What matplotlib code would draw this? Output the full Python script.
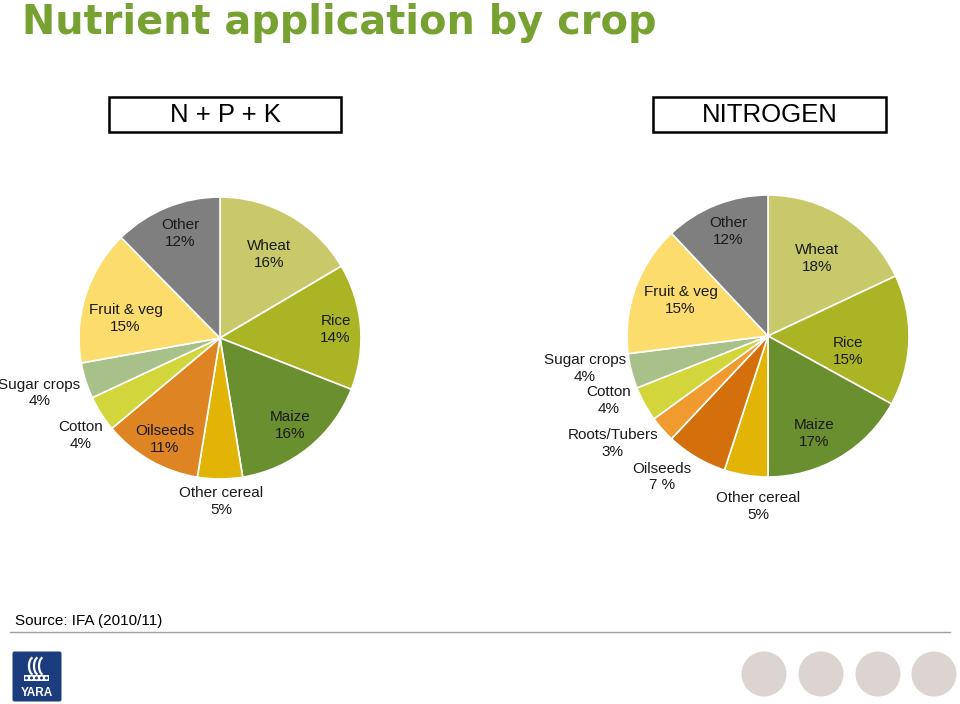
import matplotlib
matplotlib.use("Agg")
import matplotlib.pyplot as plt
import numpy as np
from matplotlib.patches import Rectangle, Circle, FancyBboxPatch, Arc

plt.rcParams['font.family'] = ['Liberation Sans', 'DejaVu Sans']

# ---------------- data ----------------
npk_labels = ["Wheat", "Rice", "Maize", "Other cereal", "Oilseeds", "Cotton",
              "Sugar crops", "Fruit & veg", "Other"]
npk_values = [16, 14, 16, 5, 11, 4, 4, 15, 12]
npk_text = ["16%", "14%", "16%", "5%", "11%", "4%", "4%", "15%", "12%"]

n_labels = ["Wheat", "Rice", "Maize", "Other cereal", "Oilseeds", "Roots/Tubers",
            "Cotton", "Sugar crops", "Fruit & veg", "Other"]
n_values = [18, 15, 17, 5, 7, 3, 4, 4, 15, 12]
n_text = ["18%", "15%", "17%", "5%", "7 %", "3%", "4%", "4%", "15%", "12%"]

colors = {
    "Wheat": "#c9c96b",
    "Rice": "#abb425",
    "Maize": "#6a8f2e",
    "Other cereal": "#e2b405",
    "Oilseeds": "#de8423",
    "Roots/Tubers": "#f19a30",
    "Cotton": "#d3d63a",
    "Sugar crops": "#a8c08a",
    "Fruit & veg": "#fcdc6c",
    "Other": "#7f7f7f",
}
oilseeds_n_color = "#d3700c"

# label positions (in pie-radius units, relative to pie centre)
npk_pos = {
    "Wheat": (0.35, 0.59), "Rice": (0.82, 0.06), "Maize": (0.50, -0.62),
    "Other cereal": (0.01, -1.16), "Oilseeds": (-0.39, -0.72),
    "Cotton": (-0.99, -0.69), "Sugar crops": (-1.28, -0.39),
    "Fruit & veg": (-0.67, 0.14), "Other": (-0.28, 0.74),
}
n_pos = {
    "Wheat": (0.35, 0.55), "Rice": (0.57, -0.11), "Maize": (0.33, -0.69),
    "Other cereal": (-0.07, -1.21), "Oilseeds": (-0.75, -1.00),
    "Roots/Tubers": (-1.10, -0.76), "Cotton": (-1.13, -0.46),
    "Sugar crops": (-1.30, -0.23), "Fruit & veg": (-0.62, 0.25),
    "Other": (-0.28, 0.74),
}

W, H = 960, 704
fig = plt.figure(figsize=(W / 100, H / 100), dpi=100)
fig.patch.set_facecolor("white")

# background / decoration axes in pixel coordinates
bg = fig.add_axes([0, 0, 1, 1])
bg.set_xlim(0, W)
bg.set_ylim(H, 0)
bg.axis("off")

bg.text(22, 23, "Nutrient application by crop", color="#77a232", fontsize=28.7,
        fontweight="bold", va="center", ha="left", family=["DejaVu Sans"])

for (x0, x1, label) in [(109, 341, "N + P + K"), (653, 886, "NITROGEN")]:
    bg.add_patch(Rectangle((x0, 97), x1 - x0, 35, fill=False, edgecolor="black", lw=1.8))
    bg.text((x0 + x1) / 2, 115, label, fontsize=18.5, ha="center", va="center")

bg.text(15, 621, "Source: IFA (2010/11)", fontsize=11, ha="left", va="center")
bg.plot([10, 950], [631.5, 631.5], color="#a0a0a0", lw=1)

# grey circles
for cx in [764, 821, 878, 934]:
    bg.add_patch(Circle((cx, 674), 22.5, color="#dbd4d1", ec="none"))

# YARA logo
bg.add_patch(FancyBboxPatch((12.5, 651.5), 49, 50, boxstyle="round,pad=0,rounding_size=2",
                            color="#1b3d7d", ec="none"))
for i in range(3):
    bg.add_patch(Arc((34 + i * 5, 666), 10, 18, theta1=100, theta2=260, color="white", lw=1.6))
bg.add_patch(Rectangle((24, 675), 25, 6, color="white", ec="none"))
for i in range(5):
    bg.add_patch(Circle((26.5 + i * 5, 678), 1.5, color="#1b3d7d", ec="none"))
bg.text(37, 693, "YARA", color="white", fontsize=8.5, fontweight="bold",
        ha="center", va="center")


def draw_pie(cx, cy, labels, values, texts, pos, special=None):
    R = 141.0
    side = 440.0
    ax = fig.add_axes([(cx - side / 2) / W, (H - cy - side / 2) / H, side / W, side / H])
    cols = [colors[l] for l in labels]
    if special:
        cols = [special.get(l, c) for l, c in zip(labels, cols)]
    ax.pie(values, colors=cols, startangle=90, counterclock=False,
           wedgeprops=dict(edgecolor="white", linewidth=1.2))
    lim = side / 2 / R
    ax.set_xlim(-lim, lim)
    ax.set_ylim(-lim, lim)
    ax.set_aspect("equal")
    ax.axis("off")
    for l, t in zip(labels, texts):
        x, y = pos[l]
        ax.text(x, y, f"{l}\n{t}", ha="center", va="center", fontsize=11,
                linespacing=1.25, color="#1a1a1a")
    return ax


draw_pie(220, 338, npk_labels, npk_values, npk_text, npk_pos)
draw_pie(768, 336, n_labels, n_values, n_text, n_pos, special={"Oilseeds": oilseeds_n_color})

fig.savefig("out.png", dpi=100, facecolor="white")
